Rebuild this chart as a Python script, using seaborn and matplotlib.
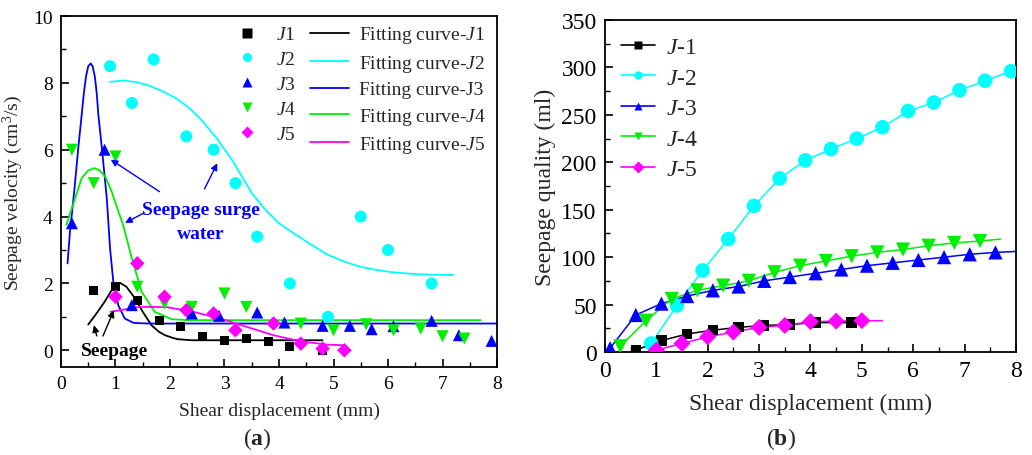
import numpy as np
import pandas as pd
import matplotlib
matplotlib.use("Agg")
import matplotlib.pyplot as plt
from matplotlib.lines import Line2D
from matplotlib.ticker import MultipleLocator
import seaborn as sns

# ---------------- panel (a): seepage velocity ----------------
j1_x = [0.6, 1.0, 1.4, 1.8, 2.2, 2.6, 3.0, 3.4, 3.8, 4.2, 4.8]
j1_y = [1.8, 1.9, 1.5, 0.9, 0.7, 0.42, 0.3, 0.35, 0.27, 0.1, 0.0]
j2_x = [0.9, 1.3, 1.7, 2.3, 2.8, 3.2, 3.6, 4.2, 4.9, 5.5, 6.0, 6.8]
j2_y = [8.5, 7.4, 8.7, 6.4, 6.0, 5.0, 3.4, 2.0, 1.0, 4.0, 3.0, 2.0]
j3_x = [0.2, 0.8, 1.3, 2.4, 2.9, 3.6, 4.1, 4.8, 5.3, 5.7, 6.1, 6.8, 7.3, 7.9]
j3_y = [3.8, 6.0, 1.35, 1.1, 1.03, 1.13, 0.83, 0.73, 0.73, 0.63, 0.72, 0.88, 0.45, 0.28]
j4_x = [0.2, 0.6, 1.0, 1.4, 1.9, 2.4, 3.0, 3.4, 4.4, 5.0, 5.6, 6.1, 6.6, 7.0, 7.4]
j4_y = [6.0, 5.0, 5.8, 1.9, 1.4, 1.3, 1.7, 1.3, 0.8, 0.6, 0.78, 0.6, 0.65, 0.42, 0.35]
j5_x = [1.0, 1.4, 1.9, 2.3, 2.8, 3.2, 3.9, 4.4, 4.8, 5.2]
j5_y = [1.6, 2.6, 1.6, 1.2, 1.1, 0.6, 0.8, 0.2, 0.05, 0.0]

# fitting curves
fit1_x = [0.50, 0.65, 0.80, 0.95, 1.08, 1.20, 1.36, 1.50, 1.66, 1.80, 1.91, 2.05, 2.15, 2.40, 3.0, 4.0, 4.8]
fit1_y = [0.77, 1.10, 1.45, 1.85, 2.02, 1.90, 1.55, 1.15, 0.75, 0.55, 0.45, 0.37, 0.33, 0.30, 0.30, 0.30, 0.30]
fit2_x = [0.90, 1.14, 1.40, 1.63, 1.90, 2.12, 2.35, 2.55, 2.86, 3.16, 3.50, 3.78, 4.0, 4.27,
          4.6, 4.88, 5.2, 5.49, 5.8, 6.1, 6.59, 7.2]
fit2_y = [8.03, 8.07, 8.02, 7.91, 7.72, 7.53, 7.25, 6.94, 6.34, 5.64, 4.70, 4.15, 3.80, 3.50,
          3.15, 2.87, 2.65, 2.50, 2.40, 2.33, 2.27, 2.25]
fit3_x = [0.12, 0.165, 0.23, 0.26, 0.32, 0.38, 0.42, 0.46, 0.50, 0.545, 0.58, 0.62, 0.655,
          0.685, 0.75, 0.81, 0.84, 0.90, 0.96, 1.05, 1.17, 1.33, 1.6, 8.0]
fit3_y = [2.6, 3.55, 4.55, 5.05, 6.1, 7.05, 7.7, 8.2, 8.5, 8.58, 8.5, 8.2, 7.7,
          7.05, 6.05, 5.05, 4.55, 3.05, 2.05, 1.35, 0.95, 0.82, 0.8, 0.8]
fit4_x = [0.10, 0.23, 0.38, 0.50, 0.61, 0.71, 0.81, 0.93, 0.99, 1.14, 1.30, 1.48, 1.72, 2.03, 2.34, 7.7]
fit4_y = [3.75, 4.40, 5.15, 5.38, 5.45, 5.38, 5.20, 4.75, 4.45, 3.75, 2.75, 1.75, 1.15, 0.93, 0.90, 0.90]
fit5_x = [0.91, 1.45, 1.94, 2.43, 2.92, 3.41, 3.9, 4.39, 4.88, 5.18]
fit5_y = [1.15, 1.30, 1.29, 1.15, 0.95, 0.70, 0.45, 0.27, 0.17, 0.15]

# ---------------- panel (b): seepage quality ----------------
q1_x = [0.6, 1.1, 1.6, 2.1, 2.6, 3.1, 3.6, 4.1, 4.8]
q1_y = [2, 12, 19, 23, 26, 28, 29, 31, 31]
q2_x = [0.9, 1.4, 1.9, 2.4, 2.9, 3.4, 3.9, 4.4, 4.9, 5.4, 5.9, 6.4, 6.9, 7.4, 7.9]
q2_y = [9, 49, 86, 119, 154, 183, 202, 214, 225, 237, 254, 263, 276, 286, 296]
q3_x = [0.1, 0.6, 1.1, 1.6, 2.1, 2.6, 3.1, 3.6, 4.1, 4.6, 5.1, 5.6, 6.1, 6.6, 7.1, 7.6]
q3_y = [4, 39, 51, 59, 65, 69, 75, 79, 83, 87, 91, 94, 97, 100, 103, 105]
q4_x = [0.3, 0.8, 1.3, 1.8, 2.3, 2.8, 3.3, 3.8, 4.3, 4.8, 5.3, 5.8, 6.3, 6.8, 7.3]
q4_y = [6, 33, 56, 65, 70, 75, 84, 91, 96, 101, 105, 108, 112, 115, 117]
q5_x = [1.0, 1.5, 2.0, 2.5, 3.0, 3.5, 4.0, 4.5, 5.0]
q5_y = [2, 9, 16, 21, 26, 28, 32, 32.5, 33]
# where the connecting lines run on past the last marker
q_tail_x = [None, None, 8.0, 7.7, 5.4]
q_tail_y = [None, None, 106, 119, 33]

colors = ["black", "#00FFFF", "#0000FF", "#00EE00", "#FF00FF"]
markers = ["s", "o", "^", "v", "D"]
msizes = [42, 75, 75, 75, 55]

sns.set_theme(style="ticks")
plt.rcParams["font.family"] = ["Liberation Serif", "DejaVu Serif"]
plt.rcParams["mathtext.fontset"] = "custom"
plt.rcParams["mathtext.rm"] = "Liberation Serif"
plt.rcParams["mathtext.it"] = "Liberation Serif:italic"
plt.rcParams["mathtext.bf"] = "Liberation Serif:bold"

fig = plt.figure(figsize=(10.32, 4.56), dpi=100)
ax1 = fig.add_axes([0.0591, 0.193, 0.4225, 0.7697])
ax2 = fig.add_axes([0.5862, 0.2259, 0.3983, 0.728])


def style_axis(ax, fs):
    for sp in ax.spines.values():
        sp.set_linewidth(1.3)
        sp.set_color("black")
        sp.set_visible(True)
    ax.tick_params(which="both", direction="in", top=False, right=False,
                   labelsize=fs, colors="black", pad=6)
    ax.tick_params(which="major", length=6, width=1.2)
    ax.tick_params(which="minor", length=3.5, width=1.0)


# --- panel (a)
pts = [(j1_x, j1_y), (j2_x, j2_y), (j3_x, j3_y), (j4_x, j4_y), (j5_x, j5_y)]
fits = [(fit1_x, fit1_y), (fit2_x, fit2_y), (fit3_x, fit3_y), (fit4_x, fit4_y), (fit5_x, fit5_y)]

for i, (fx, fy) in enumerate(fits):
    sns.lineplot(x=fx, y=fy, ax=ax1, color=colors[i], lw=1.3, sort=False,
                 estimator=None, legend=False, zorder=2)
for i, (px, py) in enumerate(pts):
    sns.scatterplot(x=px, y=py, ax=ax1, color=colors[i], marker=markers[i],
                    s=msizes[i], edgecolor="none", linewidth=0, legend=False, zorder=3)

ax1.set_xlim(0, 8)
ax1.set_ylim(-0.5, 10)
ax1.xaxis.set_major_locator(MultipleLocator(1))
ax1.xaxis.set_minor_locator(MultipleLocator(0.5))
ax1.yaxis.set_major_locator(MultipleLocator(2))
ax1.yaxis.set_minor_locator(MultipleLocator(1))
style_axis(ax1, 14)
ax1.set_xlabel("Shear displacement (mm)", fontsize=14, labelpad=7)
ax1.set_ylabel("Seepage velocity (cm$^3$/s)", fontsize=14, labelpad=6)

mk_handles = [Line2D([], [], ls="none", marker=markers[i], color=colors[i], ms=6.5,
                     mec="none") for i in range(5)]
ln_handles = [Line2D([], [], color=colors[i], lw=1.3) for i in range(5)]
mk_labels = ["$J$1", "$J$2", "$J$3", "$J$4", "$J$5"]
ln_labels = ["Fitting curve-$J$1", "Fitting curve-$J$2", "Fitting curve-J3",
             "Fitting curve-$J$4", "Fitting curve-$J$5"]
ax1.legend(handles=mk_handles + ln_handles, labels=mk_labels + ln_labels, ncol=2,
           frameon=False, fontsize=14, loc="upper right", bbox_to_anchor=(1.005, 1.015),
           handlelength=2.0, handletextpad=0.5, columnspacing=0.7, labelspacing=0.37,
           borderaxespad=0.3)

arrow_blue = dict(arrowstyle="-|>", color="#0000FF", lw=1.0, mutation_scale=10)
ax1.text(2.56, 3.85, "Seepage surge\nwater", color="#0000FF", fontsize=14, fontweight="bold",
         ha="center", va="center", linespacing=1.5)
ax1.annotate("", xy=(0.87, 5.75), xytext=(1.85, 4.7), arrowprops=arrow_blue)
ax1.annotate("", xy=(2.89, 5.67), xytext=(2.61, 4.75), arrowprops=arrow_blue)
ax1.annotate("", xy=(1.13, 3.77), xytext=(1.57, 4.15), arrowprops=arrow_blue)

arrow_black = dict(arrowstyle="-|>", color="black", lw=1.0, mutation_scale=10)
ax1.text(0.98, -0.02, "Seepage", color="black", fontsize=14, fontweight="bold",
         ha="center", va="center")
ax1.annotate("", xy=(0.59, 0.83), xytext=(0.67, 0.35), arrowprops=arrow_black)
ax1.annotate("", xy=(0.99, 1.27), xytext=(0.75, 0.35), arrowprops=arrow_black)

# --- panel (b)
qs = [(q1_x, q1_y), (q2_x, q2_y), (q3_x, q3_y), (q4_x, q4_y), (q5_x, q5_y)]
q_labels = ["$J$-1", "$J$-2", "$J$-3", "$J$-4", "$J$-5"]
q_ms = [55, 110, 105, 105, 75]
for i, (qx, qy) in enumerate(qs):
    lx, ly = list(qx), list(qy)
    if q_tail_x[i] is not None:
        lx.append(q_tail_x[i])
        ly.append(q_tail_y[i])
    df = pd.DataFrame({"x": lx, "y": ly})
    sns.lineplot(data=df, x="x", y="y", ax=ax2, color=colors[i], lw=1.1, sort=False,
                 estimator=None, legend=False, zorder=2)
    sns.scatterplot(x=qx, y=qy, ax=ax2, color=colors[i], marker=markers[i], s=q_ms[i],
                    edgecolor="none", linewidth=0, legend=False, zorder=3)

ax2.set_xlim(0, 8)
ax2.set_ylim(0, 350)
ax2.xaxis.set_major_locator(MultipleLocator(1))
ax2.xaxis.set_minor_locator(MultipleLocator(0.5))
ax2.yaxis.set_major_locator(MultipleLocator(50))
ax2.yaxis.set_minor_locator(MultipleLocator(25))
style_axis(ax2, 17)
ax2.set_xlabel("Shear displacement (mm)", fontsize=17, labelpad=8)
ax2.set_ylabel("Seepage quality (ml)", fontsize=17, labelpad=4)

q_handles = [Line2D([], [], color=colors[i], lw=1.2, marker=markers[i], ms=6, mec="none")
             for i in range(5)]
ax2.legend(handles=q_handles, labels=q_labels, frameon=False, fontsize=17, loc="upper left",
           handlelength=1.4, handletextpad=0.5, labelspacing=0.38, borderaxespad=0.3,
           bbox_to_anchor=(0.0, 1.0))

fig.text(0.2495, 0.038, "($\\mathbf{a}$)", fontsize=17, ha="center", va="center")
fig.text(0.757, 0.038, "($\\mathbf{b}$)", fontsize=17, ha="center", va="center")

fig.savefig("out.png", dpi=100)
